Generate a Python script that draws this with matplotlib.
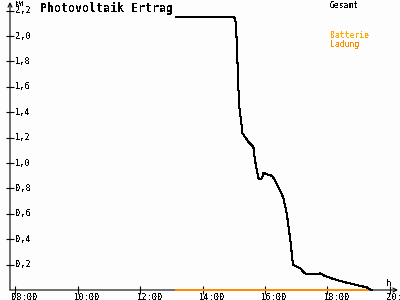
import matplotlib
matplotlib.use("Agg")
import matplotlib.pyplot as plt
import matplotlib.transforms as mtransforms

# ---- data ----
gesamt_t = [13.15, 15.02, 15.06, 15.08, 15.10, 15.12, 15.15, 15.18, 15.22, 15.26, 15.28,
            15.47, 15.63, 15.68, 15.74, 15.79, 15.87, 15.92, 15.95, 16.06, 16.22, 16.32,
            16.48, 16.59, 16.70, 16.77, 16.83, 16.88, 16.91, 17.02, 17.13, 17.28, 17.39,
            17.66, 17.77, 17.93, 18.19, 18.57, 18.94, 19.26, 19.37, 19.43]
gesamt_v = [2.147, 2.147, 2.11, 2.03, 1.955, 1.80, 1.59, 1.44, 1.365, 1.286, 1.234,
            1.168, 1.128, 1.024, 0.945, 0.880, 0.872, 0.892, 0.924, 0.911, 0.900, 0.866,
            0.787, 0.725, 0.604, 0.472, 0.368, 0.236, 0.197, 0.183, 0.171, 0.131, 0.124,
            0.126, 0.131, 0.110, 0.087, 0.061, 0.039, 0.021, 0.006, 0.0]
ladung_t = [13.15, 19.32]
ladung_v = [0.0, 0.0]

x_ticks = [8, 10, 12, 14, 16, 18, 20]
x_labels = ["08:00", "10:00", "12:00", "14:00", "16:00", "18:00", "20:00"]
y_ticks = [0.2, 0.4, 0.6, 0.8, 1.0, 1.2, 1.4, 1.6, 1.8, 2.0, 2.2]
y_labels = ["0,2", "0,4", "0,6", "0,8", "1,0", "1,2", "1,4", "1,6", "1,8", "2,0", "2,2"]

title = "Photovoltaik Ertrag"
legend_items = [("Gesamt", "#000000"), ("Batterie", "#ffaa00"), ("Ladung", "#ff8c00")]

# ---- figure ----
plt.rcParams['font.family'] = ['DejaVu Sans Mono', 'DejaVu Sans']
plt.rcParams['text.antialiased'] = False

W, H = 400, 300
fig = plt.figure(figsize=(4, 3), dpi=100, facecolor="#fdfdfd")
ax = fig.add_axes([10 / W, 10 / H, 388 / W, 288 / H])
ax.set_facecolor("#fdfdfd")
ax.set_xlim(7.830, 20.266)
ax.set_ylim(0, 2.268)
for s in ax.spines.values():
    s.set_visible(False)

ax.plot(ladung_t, ladung_v, color="#ff8c00", lw=1.2, antialiased=False, zorder=4, clip_on=False)
ax.plot(gesamt_t, gesamt_v, color="black", lw=0.75, antialiased=False, zorder=5, clip_on=False)

# axes with arrows
ax.annotate("", xy=(0, 1.0), xytext=(0, 0), xycoords="axes fraction",
            arrowprops=dict(arrowstyle="->", lw=0.8, color="black", shrinkA=0, shrinkB=0,
                            mutation_scale=7), zorder=3)
ax.annotate("", xy=(1.0, 0), xytext=(0, 0), xycoords="axes fraction",
            arrowprops=dict(arrowstyle="->", lw=0.8, color="black", shrinkA=0, shrinkB=0,
                            mutation_scale=7), zorder=3)

ax.set_xticks(x_ticks)
ax.set_yticks(y_ticks)
ax.set_xticklabels([])
ax.set_yticklabels([])
ax.tick_params(direction="inout", length=6, width=0.8, color="black")

fs = 6.3
xt = mtransforms.blended_transform_factory(ax.transData, ax.transAxes)
off_x = mtransforms.ScaledTranslation(-3.5 / 100, -2.5 / 100, fig.dpi_scale_trans)
for t, lab in zip(x_ticks, x_labels):
    ax.text(t, 0, lab, transform=xt + off_x, ha="left", va="top", fontsize=fs,
            color="black", clip_on=False)

yt = mtransforms.blended_transform_factory(ax.transAxes, ax.transData)
off_y = mtransforms.ScaledTranslation(5 / 100, 0, fig.dpi_scale_trans)
for v, lab in zip(y_ticks, y_labels):
    ax.text(0, v, lab, transform=yt + off_y, ha="left", va="center", fontsize=fs,
            color="black", clip_on=False)

fig.text(15 / W, 1 - 3.5 / H, "kW", fontsize=5.0, ha="left", va="center", color="black")
fig.text(386 / W, 1 - 283 / H, "h", fontsize=6.5, ha="left", va="center", color="black")

fig.text(40 / W, 1 - 8 / H, title, fontsize=8.4, fontweight="bold", ha="left",
         va="center", color="black")

leg_y = [5, 36, 44]
for (name, col), yy in zip(legend_items, leg_y):
    fig.text(330 / W, 1 - yy / H, name, fontsize=5.8, ha="left", va="center", color=col)

fig.savefig("out.png", dpi=100, facecolor=fig.get_facecolor())
